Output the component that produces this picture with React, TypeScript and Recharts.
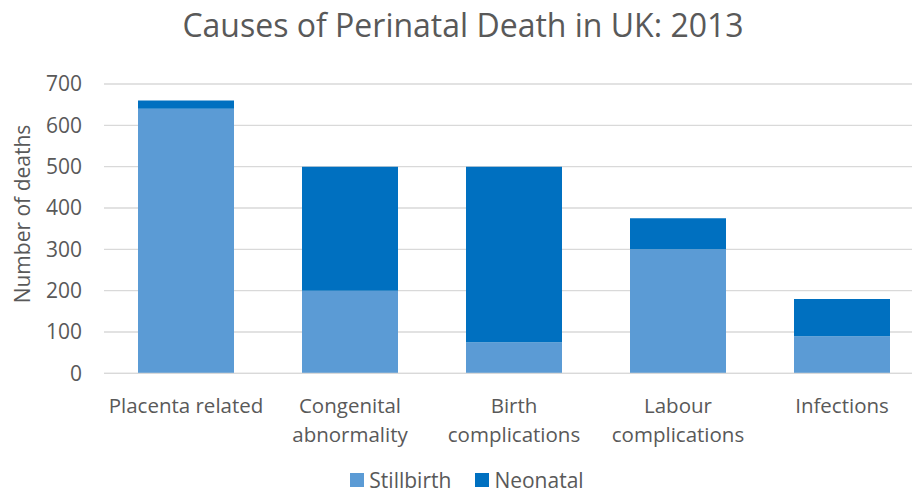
import React from "react";
import { BarChart, Bar, XAxis, YAxis, CartesianGrid } from "recharts";

const categories = ["Placenta related", "Congenital abnormality", "Birth complications", "Labour complications", "Infections"];
const categoryLines = [["Placenta related"], ["Congenital", "abnormality"], ["Birth", "complications"], ["Labour", "complications"], ["Infections"]];
const stillbirth = [640, 200, 75, 300, 90];
const neonatal = [20, 300, 425, 75, 90];
const yTicks = [0, 100, 200, 300, 400, 500, 600, 700];
const seriesNames = ["Stillbirth", "Neonatal"];

const data = categories.map((c, i) => ({ name: c, stillbirth: stillbirth[i], neonatal: neonatal[i] }));

const FONT = "'Open Sans', sans-serif";
const GREY = "#595959";
const C_STILL = "#5b9bd5";
const C_NEO = "#0070c0";
const seriesColors = [C_STILL, C_NEO];

const XTick = (props: any) => {
  const { x, y, payload } = props;
  const idx = categories.indexOf(payload.value);
  const lines = categoryLines[idx] || [payload.value];
  return (
    <text x={x} y={y} textAnchor="middle" fill={GREY} fontSize={20.5} fontFamily={FONT}>
      {lines.map((l: string, i: number) => (
        <tspan key={i} x={x} dy={i === 0 ? 31.5 : 29}>{l}</tspan>
      ))}
    </text>
  );
};

export default function App() {
  return (
    <div style={{ position: "absolute", left: 0, top: 0, width: 912, height: 493, overflow: "hidden", background: "#fff" }}>
      <svg width={912} height={50} style={{ position: "absolute", left: 0, top: 0 }}>
        <text x={463} y={37} textAnchor="middle" fill={GREY} fontSize={32} fontFamily={FONT}>
          Causes of Perinatal Death in UK: 2013
        </text>
      </svg>
      <div style={{ position: "absolute", left: 0, top: 0 }}>
        <BarChart
          width={930}
          height={460}
          data={data}
          margin={{ top: 84, right: 6, left: 0, bottom: 6.67 }}
          barSize={96}
        >
          <CartesianGrid vertical={false} stroke="#d9d9d9" strokeWidth={1.3} />
          <XAxis dataKey="name" height={80} axisLine={{ stroke: "#d9d9d9", strokeWidth: 1.3 }} tickLine={false} tick={<XTick />} interval={0} />
          <YAxis
            width={104}
            domain={[0, 700]}
            ticks={yTicks}
            axisLine={false}
            tickLine={false}
            tickSize={0}
            tickMargin={22}
            tick={{ fill: GREY, fontSize: 21, fontFamily: FONT }}
            label={{
              content: () => (
                <text x={30} y={214} transform="rotate(-90 30 214)" textAnchor="middle" fill={GREY} fontSize={21} fontFamily={FONT}>
                  Number of deaths
                </text>
              ),
            }}
          />
          <Bar dataKey="stillbirth" name={seriesNames[0]} stackId="a" fill={C_STILL} isAnimationActive={false} />
          <Bar dataKey="neonatal" name={seriesNames[1]} stackId="a" fill={C_NEO} isAnimationActive={false} />
        </BarChart>
      </div>
      <div style={{ position: "absolute", top: 469, left: 0, width: 912, display: "flex", justifyContent: "center", fontFamily: FONT, fontSize: 21, color: GREY, lineHeight: "22px" }}>
        <div style={{ display: "flex", alignItems: "center", marginLeft: 22 }}>
          {seriesNames.map((n, i) => (
            <div key={i} style={{ display: "flex", alignItems: "center", marginRight: i === 0 ? 24 : 0 }}>
              <span style={{ display: "inline-block", width: 14, height: 14, background: seriesColors[i], marginRight: 5 }} />
              <span>{n}</span>
            </div>
          ))}
        </div>
      </div>
    </div>
  );
}
